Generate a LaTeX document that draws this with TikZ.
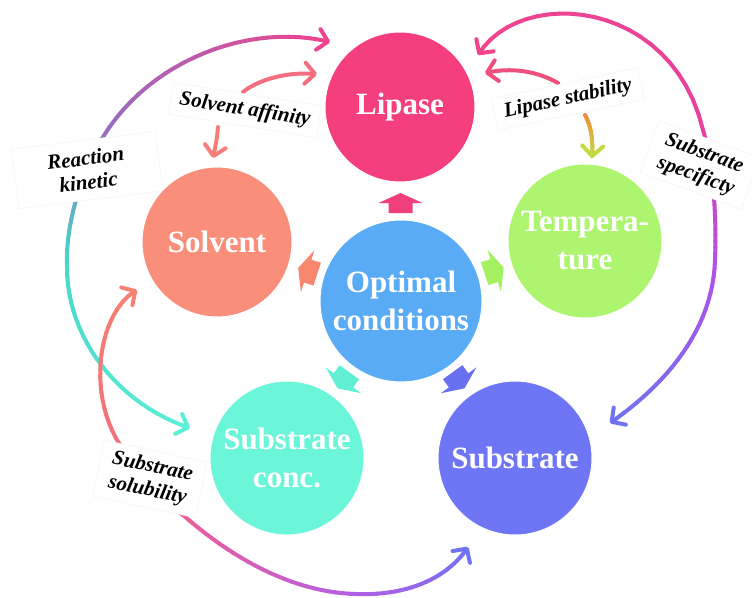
\documentclass[tikz,border=0pt]{standalone}
\usepackage{fontspec}
\setmainfont{Liberation Serif}
\usetikzlibrary{arrows.meta,calc}
\definecolor{cLip}{HTML}{F43E7D}
\definecolor{cSolv}{HTML}{F98F7B}
\definecolor{cTemp}{HTML}{ADF56E}
\definecolor{cOpt}{HTML}{5AABF5}
\definecolor{cSC}{HTML}{6BF5D9}
\definecolor{cSub}{HTML}{6E76F5}
\definecolor{aLip}{HTML}{F03F7C}
\definecolor{aSolv}{HTML}{F7876F}
\definecolor{aTemp}{HTML}{A5F060}
\definecolor{aSC}{HTML}{62F0D5}
\definecolor{aSub}{HTML}{6870F0}
\definecolor{rkPink}{HTML}{F0428C}
\definecolor{rkPurp}{HTML}{9470C2}
\definecolor{rkTeal}{HTML}{45D9C9}
\definecolor{rkAqua}{HTML}{5CEFD6}
\definecolor{ssPink}{HTML}{F2448A}
\definecolor{ssMag}{HTML}{E6429E}
\definecolor{ssPurp}{HTML}{B350E6}
\definecolor{ssViol}{HTML}{6F73F2}
\definecolor{sbSal}{HTML}{F58272}
\definecolor{sbRed}{HTML}{F2727A}
\definecolor{sbPink}{HTML}{EC5E98}
\definecolor{sbPurp}{HTML}{B160E6}
\definecolor{sbViol}{HTML}{6F73F2}
\definecolor{saUp}{HTML}{F36F80}
\definecolor{saDn}{HTML}{F68079}
\definecolor{lsUp}{HTML}{EF4F7C}
\definecolor{lsOr}{HTML}{F0883F}
\definecolor{lsYG}{HTML}{C6DA45}
\tikzset{
  curveline/.style={line width=4pt, line cap=round},
  tipE/.style={-{Straight Barb[round,length=10pt,width=21pt]}},
  tipS/.style={{Straight Barb[round,length=10pt,width=21pt]}-},
  circ/.style={circle, draw=white, line width=1pt, text=white,
    font=\bfseries\fontsize{31}{38}\selectfont, align=center, inner sep=0pt,
    minimum size=#1},
  lbl/.style={draw=black!5, fill=white,
    font=\bfseries\itshape\fontsize{21}{24}\selectfont, align=center, inner sep=2pt},
  blockarrow/.pic={\fill[pic actions] (-10,-12) -- (0,-12) -- (0,-22) -- (10,0)
    -- (0,22) -- (0,12) -- (-10,12) -- cycle;}
}
% gradient curve: #1..#4 bezier points, #5 start colour, #6 end colour,
% #7 name prefix, #8 style of first piece, #9 style of last piece
\newcommand\gradcurve[9]{%
  \foreach \k in {0,...,24}{%
    \pgfmathsetmacro\gpos{\k/24}%
    \path #1 .. controls #2 and #3 .. #4 coordinate[pos=\gpos] (#7\k);}%
  \foreach \k in {1,...,22}{%
    \pgfmathtruncatemacro\kn{\k+1}%
    \pgfmathtruncatemacro\pc{100-(\k+0.5)*100/24}%
    \draw[curveline,color=#5!\pc!#6] (#7\k) -- (#7\kn);}%
  \draw[curveline,color=#5!98!#6,#8] (#70) -- (#71);%
  \draw[curveline,color=#5!2!#6,#9] (#723) -- (#724);}
\begin{document}
\begin{tikzpicture}[x=1pt,y=-1pt]
\useasboundingbox (0,0) rectangle (752,597);
\coordinate (lipC) at (400,107);
% end points of connectors
\coordinate (rkA) at (330,42);
\coordinate (rkB) at (103,137);
\coordinate (rkC) at (67,267);
\coordinate (rkD) at (190,428);
\coordinate (ssA) at (478,55);
\coordinate (ssB) at (703,130);
\coordinate (ssC) at (715,260);
\coordinate (ssD) at (610,423);
\coordinate (sbA) at (137,290);
\coordinate (sbB) at (120,445);
\coordinate (sbC) at (183,515);
\coordinate (sbD) at (357,594);
\coordinate (sbE) at (468,547);
\coordinate (saU1) at (243,92);
\coordinate (saU2) at (317,74);
\coordinate (saD1) at (218,127);
\coordinate (saD2) at (213,158);
\coordinate (lsU1) at (558,83);
\coordinate (lsU2) at (485,73);
\coordinate (lsD1) at (585,115);
\coordinate (lsD2) at (592,158);
% Reaction kinetic
\gradcurve{(rkA)}{(250,22)}{(150,60)}{(rkB)}{rkPink}{rkPurp}{rka}{tipS}{}
\gradcurve{(rkB)}{(85,165)}{(65,220)}{(rkC)}{rkPurp}{rkTeal}{rkb}{}{}
\gradcurve{(rkC)}{(67,340)}{(120,405)}{(rkD)}{rkTeal}{rkAqua}{rkc}{}{tipE}
% Substrate specificty
\gradcurve{(ssA)}{(520,-14)}{(672,-2)}{(ssB)}{ssPink}{ssMag}{ssa}{tipS}{}
\gradcurve{(ssB)}{(712,160)}{(717,210)}{(ssC)}{ssMag}{ssPurp}{ssb}{}{}
\gradcurve{(ssC)}{(713,330)}{(665,385)}{(ssD)}{ssPurp}{ssViol}{ssc}{}{tipE}
% Substrate solubility
\gradcurve{(sbA)}{(100,310)}{(85,390)}{(sbB)}{sbSal}{sbRed}{sba}{tipS}{}
\gradcurve{(sbB)}{(135,470)}{(160,500)}{(sbC)}{sbRed}{sbPink}{sbb}{}{}
\gradcurve{(sbC)}{(240,565)}{(300,593)}{(sbD)}{sbPink}{sbPurp}{sbc}{}{}
\gradcurve{(sbD)}{(412,596)}{(450,575)}{(sbE)}{sbPurp}{sbViol}{sbd}{}{tipE}
% Solvent affinity
\draw[curveline,saUp,tipE] (saU1) .. controls (258,80) and (285,72) .. (saU2);
\draw[curveline,saDn,tipE] (saD1) .. controls (217,140) and (215,148) .. (saD2);
% Lipase stability
\draw[curveline,lsUp,tipE] (lsU1) .. controls (535,70) and (510,68) .. (lsU2);
\gradcurve{(lsD1)}{(592,128)}{(593,142)}{(lsD2)}{lsOr}{lsYG}{lsd}{}{tipE}
% labels
\node[lbl, rotate=7, minimum width=145pt, minimum height=60pt] (lrk) at (87,170) {Reaction\\kinetic};
\node[lbl, rotate=-9, minimum width=150pt, minimum height=32pt] (lsa) at (245,110) {Solvent affinity};
\node[lbl, rotate=12, minimum width=150pt, minimum height=32pt] (lls) at (568,99) {Lipase stability};
\node[lbl, rotate=-20, minimum width=108pt, minimum height=55pt] (lss) at (700,165) {Substrate\\specificty};
\node[lbl, rotate=-12, minimum width=105pt, minimum height=57pt] (lsb) at (150,479) {Substrate\\solubility};
% circles
\node[circ=150pt, fill=cLip] (lip) at (lipC) {Lipase};
\node[circ=150pt, fill=cSolv] (solv) at (217,242) {Solvent};
\node[circ=154pt, fill=cTemp] (temp) at (585,241) {Tempera-\\ture};
\node[circ=162pt, fill=cOpt] (opt) at (401,301) {Optimal\\conditions};
\node[circ=154pt, fill=cSC] (sc) at (287,458) {Substrate\\conc.};
\node[circ=154pt, fill=cSub] (sub) at (515,458) {Substrate};
% block arrows from optimal conditions
\path ($(opt)!98pt!(lip)$) pic[rotate=90, fill=aLip] {blockarrow};
\path ($(opt)!98pt!(solv)$) pic[rotate=162, fill=aSolv] {blockarrow};
\path ($(opt)!98pt!(temp)$) pic[rotate=18, fill=aTemp] {blockarrow};
\path ($(opt)!98pt!(sc)$) pic[rotate=234, fill=aSC] {blockarrow};
\path ($(opt)!98pt!(sub)$) pic[rotate=306, fill=aSub] {blockarrow};
\end{tikzpicture}
\end{document}
